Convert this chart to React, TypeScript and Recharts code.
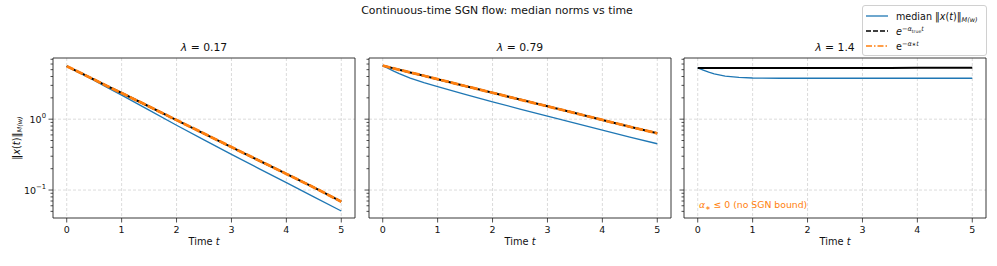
import React from 'react'
import {LineChart, Line, XAxis, YAxis, CartesianGrid, ReferenceArea} from 'recharts'

// time samples shared by every panel
const times = [0, 0.1, 0.2, 0.3, 0.5, 0.75, 1, 1.5, 2, 2.5, 3, 3.5, 4, 4.5, 5]

// lambda = 0.17
const medianA = [5.6, 5.1, 4.64, 4.23, 3.51, 2.77, 2.18, 1.34, 0.82, 0.51, 0.318, 0.201, 0.127, 0.08, 0.0506]
const trueA = [5.6, 5.13, 4.7, 4.31, 3.62, 2.9, 2.34, 1.51, 0.97, 0.627, 0.404, 0.261, 0.169, 0.109, 0.0685]
const starA = [5.6, 5.13, 4.7, 4.31, 3.62, 2.9, 2.34, 1.51, 0.97, 0.627, 0.404, 0.261, 0.169, 0.109, 0.0685]

// lambda = 0.79
const medianB = [5.7, 5.2, 4.76, 4.39, 3.8, 3.27, 2.87, 2.24, 1.76, 1.39, 1.1, 0.88, 0.7, 0.56, 0.45]
const trueB = [5.7, 5.45, 5.21, 4.98, 4.57, 4.1, 3.67, 2.94, 2.36, 1.89, 1.52, 1.22, 0.975, 0.782, 0.632]
const starB = [5.7, 5.45, 5.21, 4.98, 4.57, 4.1, 3.67, 2.94, 2.36, 1.89, 1.52, 1.22, 0.975, 0.782, 0.632]

// lambda = 1.4 (no SGN bound, so no alpha_* curve)
const medianC = [5.28, 4.92, 4.6, 4.36, 4.06, 3.88, 3.81, 3.78, 3.78, 3.78, 3.78, 3.78, 3.78, 3.78, 3.78]
const trueC = [5.28, 5.28, 5.28, 5.28, 5.28, 5.28, 5.28, 5.28, 5.29, 5.29, 5.29, 5.29, 5.3, 5.3, 5.3]

const lambdas = ['0.17', '0.79', '1.4']
const xTicks = [0, 1, 2, 3, 4, 5]
const yMajor = [0.1, 1]
const yTicks = [0.05, 0.06, 0.07, 0.08, 0.09, 0.1, 0.2, 0.3, 0.4, 0.5, 0.6, 0.7, 0.8, 0.9, 1, 2, 3, 4, 5, 6, 7]

const FONT = 'DejaVu Sans'
const BLUE = '#1f77b4'
const ORANGE = '#ff7f0e'

const rows = (median: number[], tru: number[], star: number[] | null) =>
  times.map((t, i) => ({t, median: median[i], tru: tru[i], star: star ? star[i] : null}))

const panels = [
  {left: 53, data: rows(medianA, trueA, starA), star: true, labels: true},
  {left: 369, data: rows(medianB, trueB, starB), star: true, labels: false},
  {left: 684, data: rows(medianC, trueC, null), star: false, labels: false},
]

const YW = 50
const PW = 302

const makeYTick = (labels: boolean) => (props: any) => {
  const {x, y, payload} = props
  const lg = Math.log10(payload.value)
  const major = Math.abs(lg - Math.round(lg)) < 1e-6
  return (
    <g>
      <line x1={x - (major ? 4.5 : 2.5)} x2={x} y1={y} y2={y} stroke="#222" strokeWidth={0.8} />
      {labels && major && (
        <text x={x - 7} y={y + 3.5} textAnchor="end" fontSize={9.5} fontFamily={FONT} fill="#111">
          10<tspan dy={-4.5} fontSize={6.8}>{Math.round(lg) < 0 ? '\u2212' + Math.abs(Math.round(lg)) : Math.round(lg)}</tspan>
        </text>
      )}
    </g>
  )
}

const XTick = (props: any) => {
  const {x, y, payload} = props
  return (
    <g>
      <line x1={x} x2={x} y1={y} y2={y + 4.5} stroke="#222" strokeWidth={0.8} />
      <text x={x} y={y + 15} textAnchor="middle" fontSize={9.5} fontFamily={FONT} fill="#111">{payload.value}</text>
    </g>
  )
}

const Panel = ({p}: {p: any}) => (
  <div style={{position: 'absolute', left: p.left - YW, top: 0}}>
    <LineChart width={YW + PW + 6} height={266} data={p.data} margin={{top: 58, right: 6, bottom: 18, left: 0}}>
      <CartesianGrid stroke="#b0b0b0" strokeOpacity={0.45} strokeDasharray="3 2" horizontalValues={yMajor} verticalValues={xTicks} />
      <XAxis type="number" dataKey="t" domain={[-0.25, 5.25]} ticks={xTicks} allowDataOverflow height={30}
        axisLine={false} tickLine={false} tickSize={0} tickMargin={0} tick={XTick}
        label={{content: (lp: any) => {
          const vb = lp.viewBox
          return (
            <text x={vb.x + vb.width / 2} y={vb.y + 27} textAnchor="middle" fontSize={9.8} fontFamily={FONT} fill="#111">
              Time <tspan fontStyle="italic">t</tspan>
            </text>
          )
        }}} />
      <YAxis type="number" scale="log" domain={[0.0403, 7.3]} ticks={yTicks} allowDataOverflow width={YW}
        axisLine={false} tickLine={false} tickSize={0} tickMargin={0} tick={makeYTick(p.labels)} interval={0} />
      <Line type="linear" dataKey="median" stroke={BLUE} strokeWidth={1.3} dot={false} isAnimationActive={false} />
      <Line type="linear" dataKey="tru" stroke="#000" strokeWidth={2} dot={false} isAnimationActive={false} />
      {p.star && <Line type="linear" dataKey="star" stroke={ORANGE} strokeWidth={2.8} strokeDasharray="8 2" dot={false} isAnimationActive={false} />}
      <ReferenceArea x1={-0.25} x2={5.25} y1={0.0403} y2={7.3} fill="none" stroke="#222" strokeWidth={0.9} ifOverflow="visible" />
    </LineChart>
  </div>
)

const LegendBox = () => (
  <div style={{position: 'absolute', left: 862, top: 5, width: 123, height: 49, border: '1px solid #d0d0d0', borderRadius: 3,
    background: 'rgba(255,255,255,0.85)'}}>
    <svg width={123} height={49} style={{position: 'absolute', left: 0, top: 0}}>
      <line x1={3} x2={25} y1={10} y2={10} stroke={BLUE} strokeWidth={1.3} />
      <line x1={3} x2={25} y1={25} y2={25} stroke="#000" strokeWidth={1.3} strokeDasharray="5 2" />
      <line x1={3} x2={25} y1={40} y2={40} stroke={ORANGE} strokeWidth={1.3} strokeDasharray="6 2 1.5 2" />
      <text x={33} y={13.5} fontSize={9.6} fontFamily={FONT} fill="#111">
        median ‖<tspan fontStyle="italic">x</tspan>(<tspan fontStyle="italic">t</tspan>)‖<tspan dy={2} fontSize={6.5} fontStyle="italic">M(w)</tspan>
      </text>
      <text x={33} y={29} fontSize={9.6} fontFamily={FONT} fill="#111">
        <tspan fontStyle="italic">e</tspan><tspan dy={-4} fontSize={6.6}>{'\u2212'}</tspan><tspan fontSize={6.6} fontStyle="italic">α</tspan><tspan fontSize={4.6} dy={1.5}>true</tspan><tspan fontSize={6.6} fontStyle="italic" dy={-1.5}>t</tspan>
      </text>
      <text x={33} y={44} fontSize={9.6} fontFamily={FONT} fill="#111">
        e<tspan dy={-4} fontSize={6.6}>{'\u2212'}</tspan><tspan fontSize={6.6} fontStyle="italic">α</tspan><tspan fontSize={5.2}>∗</tspan><tspan fontSize={6.6} fontStyle="italic">t</tspan>
      </text>
    </svg>
  </div>
)

const Overlay = () => (
  <svg width={997} height={266} style={{position: 'absolute', left: 0, top: 0, pointerEvents: 'none'}}>
    <text x={497} y={14} textAnchor="middle" fontSize={10.9} fontFamily={FONT} fill="#111">
      Continuous-time SGN flow: median norms vs time
    </text>
    {panels.map((p, i) => (
      <text key={i} x={p.left + PW / 2} y={51} textAnchor="middle" fontSize={10.8} fontFamily={FONT} fill="#111">
        <tspan fontStyle="italic">λ</tspan> = {lambdas[i]}
      </text>
    ))}
    <text x={20} y={138} transform="rotate(-90 20 138)" textAnchor="middle" fontSize={9.8} fontFamily={FONT} fill="#111">
      ‖<tspan fontStyle="italic">x</tspan>(<tspan fontStyle="italic">t</tspan>)‖<tspan dy={2} fontSize={6.6} fontStyle="italic">M(w)</tspan>
    </text>
    <text x={699} y={208} fontSize={9.3} fontFamily={FONT} fill={ORANGE}>
      <tspan fontStyle="italic">α</tspan><tspan fontSize={6.5} dy={1.5}>∗</tspan><tspan dy={-1.5}> ≤ 0 (no SGN bound)</tspan>
    </text>
  </svg>
)

export default function App() {
  return (
    <div style={{position: 'absolute', left: 0, top: 0, width: 997, height: 266, background: '#fff'}}>
      {panels.map((p, i) => <Panel key={i} p={p} />)}
      <Overlay />
      <LegendBox />
    </div>
  )
}
